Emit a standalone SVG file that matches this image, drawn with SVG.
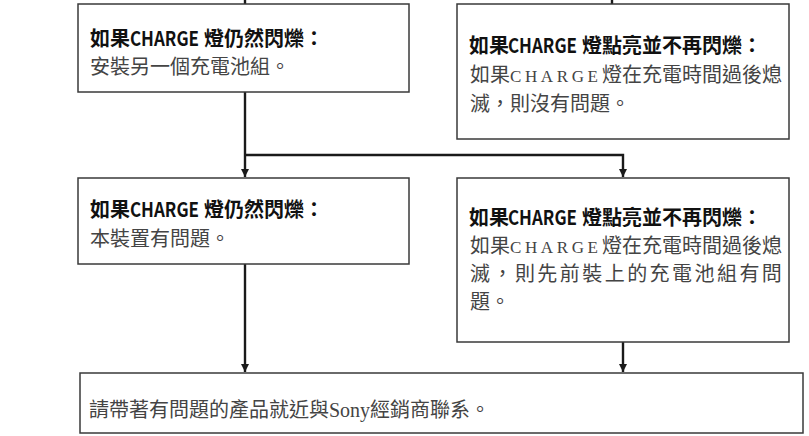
<svg xmlns="http://www.w3.org/2000/svg" width="809" height="436" viewBox="0 0 809 436">
<defs>
<marker id="ah" viewBox="0 0 8 10" refX="8" refY="5" markerWidth="8" markerHeight="10" markerUnits="userSpaceOnUse" orient="auto">
<path d="M0,1 L8,5 L0,9 Z" fill="#1a1a1a"/>
</marker>
<style>
.box{fill:#fff;stroke:#3a3a3a;stroke-width:1.5}
.t{font-family:"Noto Sans CJK TC","Noto Sans",sans-serif;font-size:20px;font-weight:bold;fill:#111}
.b{font-family:"Noto Sans CJK TC","Noto Sans",sans-serif;font-size:20px;fill:#444}
.s{font-family:"Liberation Serif","Noto Sans CJK TC",serif;font-size:20px;fill:#444}
.c{fill:none;stroke:#1a1a1a;stroke-width:2.4}
</style>
</defs>
<g id="connectors">
<path class="c" d="M245,0 V4"/>
<path class="c" d="M612,0 V4"/>
<path class="c" d="M245,92 V177" marker-end="url(#ah)"/>
<path class="c" d="M245,155 H623 V177" marker-end="url(#ah)"/>
<path class="c" d="M245,264 V372" marker-end="url(#ah)"/>
<path class="c" d="M623,342 V372" marker-end="url(#ah)"/>
</g>
<g id="n1">
<rect class="box" x="78" y="4" width="331" height="88"/>
<text class="t" y="46"><tspan x="90">如果</tspan><tspan x="130" textLength="69" lengthAdjust="spacingAndGlyphs">CHARGE</tspan><tspan x="204">燈仍然閃爍：</tspan></text>
<text class="b" x="90" y="74">安裝另一個充電池組。</text>
</g>
<g id="n2">
<rect class="box" x="457" y="4" width="332" height="135"/>
<text class="t" y="53"><tspan x="469">如果</tspan><tspan x="508" textLength="69" lengthAdjust="spacingAndGlyphs">CHARGE</tspan><tspan x="582">燈點亮並不再閃爍：</tspan></text>
<text class="s" y="82"><tspan x="470">如果</tspan><tspan x="510" font-size="17" textLength="88" lengthAdjust="spacing">CHARGE</tspan><tspan x="602">燈在充電時間過後熄</tspan></text>
<text class="s" x="470" y="111">滅，則沒有問題。</text>
</g>
<g id="n3">
<rect class="box" x="78" y="178" width="331" height="86"/>
<text class="t" y="217"><tspan x="90">如果</tspan><tspan x="130" textLength="69" lengthAdjust="spacingAndGlyphs">CHARGE</tspan><tspan x="204">燈仍然閃爍：</tspan></text>
<text class="b" x="90" y="246">本裝置有問題。</text>
</g>
<g id="n4">
<rect class="box" x="457" y="178" width="332" height="164"/>
<text class="t" y="225"><tspan x="469">如果</tspan><tspan x="508" textLength="69" lengthAdjust="spacingAndGlyphs">CHARGE</tspan><tspan x="582">燈點亮並不再閃爍：</tspan></text>
<text class="s" y="253"><tspan x="470">如果</tspan><tspan x="510" font-size="17" textLength="88" lengthAdjust="spacing">CHARGE</tspan><tspan x="602">燈在充電時間過後熄</tspan></text>
<text class="s" x="470" y="281" letter-spacing="2.45">滅，則先前裝上的充電池組有問</text>
<text class="s" x="470" y="309">題。</text>
</g>
<g id="n5">
<rect class="box" x="80" y="373" width="723" height="60"/>
<text class="s" x="89" y="417">請帶著有問題的產品就近與Sony經銷商聯系。</text>
</g>
</svg>
